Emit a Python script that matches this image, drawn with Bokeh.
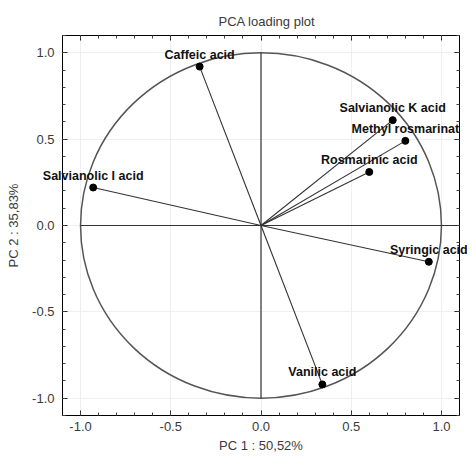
from bokeh.plotting import figure
from bokeh.models import LinearAxis, FixedTicker, Range1d, ColumnDataSource, Grid
from bokeh.core.properties import value
from bokeh.embed import file_html
from bokeh.resources import INLINE

# data
compounds = ["Caffeic acid", "Salvianolic K acid", "Methyl rosmarinat", "Rosmarinic acid",
             "Salvianolic I acid", "Syringic acid", "Vanilic acid"]
pc1 = [-0.34, 0.73, 0.80, 0.60, -0.93, 0.93, 0.34]
pc2 = [0.92, 0.61, 0.49, 0.31, 0.22, -0.21, -0.92]
major_ticks = [-1.0, -0.5, 0.0, 0.5, 1.0]
minor_ticks = [-1.1, -1.0, -0.9, -0.8, -0.7, -0.6, -0.5, -0.4, -0.3, -0.2, -0.1, 0.0,
               0.1, 0.2, 0.3, 0.4, 0.5, 0.6, 0.7, 0.8, 0.9, 1.0, 1.1]
tick_labels = {-1.0: "-1.0", -0.5: "-0.5", 0.0: "0.0", 0.5: "0.5", 1.0: "1.0"}
no_labels = {-1.0: "", -0.5: "", 0.0: "", 0.5: "", 1.0: ""}
title = "PCA loading plot"
xlabel = "PC 1 : 50,52%"
ylabel = "PC 2 : 35,83%"

FONT = "Liberation Sans"
TXT = "#3a3a3a"

src = ColumnDataSource(dict(x=pc1, y=pc2, name=compounds, x0=[0] * len(pc1), y0=[0] * len(pc1)))

p = figure(width=467, height=455, output_backend="svg", toolbar_location=None,
           x_range=Range1d(-1.1, 1.1), y_range=Range1d(-1.1, 1.1),
           x_axis_type=None, y_axis_type=None,
           min_border_left=62, min_border_right=8, min_border_top=35, min_border_bottom=40)

p.title.text = title
p.title.align = "left"
p.title.text_font = FONT
p.title.text_font_style = "normal"
p.title.text_font_size = "13px"
p.title.text_color = TXT
p.title.offset = 156
p.title.standoff = 13

ticker = FixedTicker(ticks=major_ticks, minor_ticks=minor_ticks)

def make_axis(labels, label_standoff=6, title_standoff=4):
    ax = LinearAxis(ticker=ticker)
    ax.major_tick_in = 5
    ax.major_tick_out = 0
    ax.minor_tick_in = 3
    ax.minor_tick_out = 0
    ax.axis_line_color = "black"
    ax.major_tick_line_color = "#222222"
    ax.minor_tick_line_color = "#444444"
    if labels:
        ax.major_label_overrides = tick_labels
        ax.major_label_text_font = FONT
        ax.major_label_text_font_size = "13px"
        ax.major_label_text_color = TXT
        ax.axis_label_text_font = FONT
        ax.axis_label_text_font_size = "13px"
        ax.axis_label_text_font_style = "normal"
        ax.axis_label_text_color = TXT
        ax.major_label_standoff = label_standoff
        ax.axis_label_standoff = title_standoff
    else:
        ax.major_label_overrides = no_labels
        ax.major_label_standoff = 0
    return ax

xb = make_axis(True, 6, 4)
xb.axis_label = xlabel
yl = make_axis(True, 8, 8)
yl.axis_label = ylabel
p.add_layout(xb, "below")
p.add_layout(yl, "left")
p.add_layout(make_axis(False), "above")
p.add_layout(make_axis(False), "right")

p.xgrid.visible = False
p.ygrid.visible = False
p.add_layout(Grid(dimension=0, ticker=ticker, grid_line_color="#efefef", grid_line_width=1))
p.add_layout(Grid(dimension=1, ticker=ticker, grid_line_color="#efefef", grid_line_width=1))

p.outline_line_color = "black"

# unit circle
p.ellipse(x=0, y=0, width=2, height=2, fill_color=None, line_color="#555555", line_width=1.5)
# axes through origin
p.segment(x0=[-1.0, 0.0], y0=[0.0, -1.0], x1=[1.1, 0.0], y1=[0.0, 1.0], line_color="#333333", line_width=1.2)
# loading vectors
p.segment(x0="x0", y0="y0", x1="x", y1="y", source=src, line_color="#333333", line_width=1.1)
p.scatter(x="x", y="y", source=src, size=7, fill_color="black", line_color="black")
p.text(x="x", y="y", text="name", source=src, text_align="center", text_baseline="bottom",
       y_offset=-5, text_font=value(FONT), text_font_style="bold", text_font_size="12.5px",
       text_color="#111111", level="overlay")

open("out.html", "w").write(file_html(p, INLINE))
